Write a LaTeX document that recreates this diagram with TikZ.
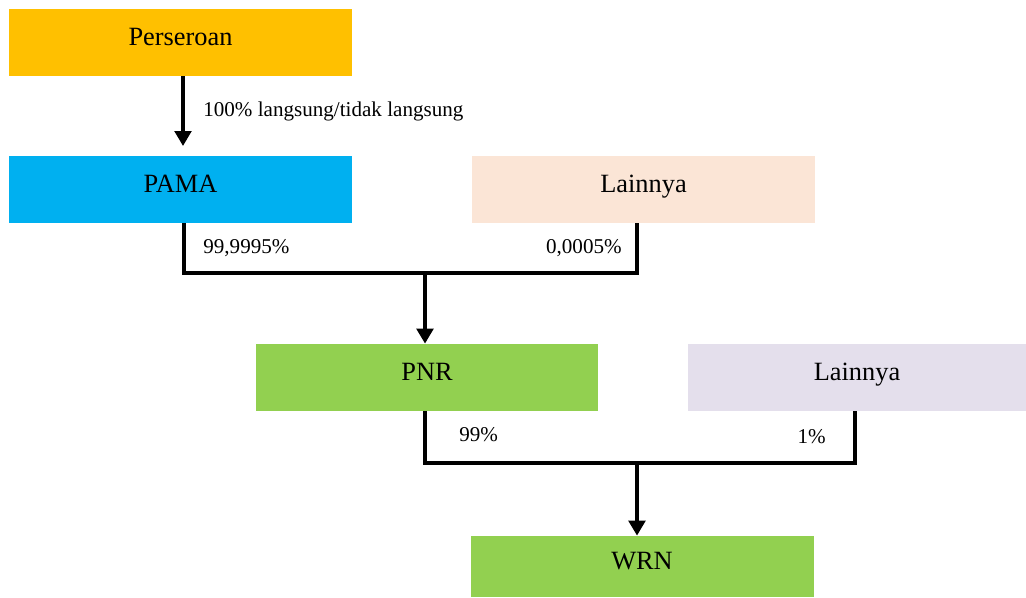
\documentclass[tikz,border=0pt]{standalone}
\usepackage{fontspec}
\setmainfont{Liberation Serif}
\usetikzlibrary{arrows.meta}
\definecolor{perseroanfill}{HTML}{FFC000}
\definecolor{pamafill}{HTML}{00B0F0}
\definecolor{peachfill}{HTML}{FBE5D6}
\definecolor{greenfill}{HTML}{92D050}
\definecolor{lilacfill}{HTML}{E4DFEC}
\begin{document}
\begin{tikzpicture}[
    box/.style={minimum width=6.86cm,minimum height=1.34cm,inner sep=0pt,
        text height=0.8em,text depth=0.5em,font=\fontsize{15}{18}\selectfont},
    link/.style={line width=2.3pt},
    pct/.style={inner sep=0pt,font=\fontsize{12}{14}\selectfont}
]
                    \useasboundingbox (0,0) rectangle (20.52,-11.94);

                    \node (perseroan) at (3.61,-0.85) [box,fill=perseroanfill] {Perseroan};
                    \node (pama) at (3.61,-3.79) [box,fill=pamafill] {PAMA};
                    \node (lainnyaA) at (12.87,-3.79) [box,fill=peachfill] {Lainnya};
                    \node (pnr) at (8.54,-7.55) [box,minimum width=6.84cm,fill=greenfill] {PNR};
                    \node (lainnyaB) at (17.14,-7.55) [box,minimum width=6.76cm,fill=lilacfill] {Lainnya};
                    \node (wrn) at (12.84,-11.33) [box,minimum height=1.22cm,fill=greenfill] {WRN};

                    % first level
                    \node (pamaTip) [coordinate] at (3.66,-2.92) {};
                    \node (topA) [coordinate] at (3.68,-4.5) {};
                    \node (topB) [coordinate] at (12.74,-4.5) {};
                    \node (joinA) [coordinate] at (3.68,-5.46) {};
                    \node (joinB) [coordinate] at (12.74,-5.46) {};
                    \node (dropA) [coordinate] at (8.5,-5.46) {};

                    % second level
                    \node (topC) [coordinate] at (8.5,-8.3) {};
                    \node (topD) [coordinate] at (17.1,-8.3) {};
                    \node (joinC) [coordinate] at (8.5,-9.26) {};
                    \node (joinD) [coordinate] at (17.1,-9.26) {};
                    \node (dropB) [coordinate] at (12.74,-9.26) {};

                    \path [link,->,>={Triangle[length=3mm,width=3.3mm]}]
                        (perseroan.south -| pamaTip) edge (pamaTip)
                        (dropA) edge (dropA |- pnr.north)
                        (dropB) edge (dropB |- wrn.north)
                    ;
                    \draw [link] (topA |- pama.south) -- (joinA) -- (joinB) -- (topB |- lainnyaA.south);
                    \draw [link] (topC |- pnr.south) -- (joinC) -- (joinD) -- (topD |- lainnyaB.south);

                    \node (direct) [pct,anchor=west] at (4.06,-2.22) {100\% langsung/tidak langsung};
                    \node (pctPama) [pct,anchor=west] at (4.06,-4.96) {99,9995\%};
                    \node (pctLainA) [pct,anchor=east] at (12.44,-4.96) {0,0005\%};
                    \node (pctPnr) [pct,anchor=west] at (9.18,-8.7) {99\%};
                    \node (pctLainB) [pct,anchor=east] at (16.52,-8.74) {1\%};
                \end{tikzpicture}
\end{document}
